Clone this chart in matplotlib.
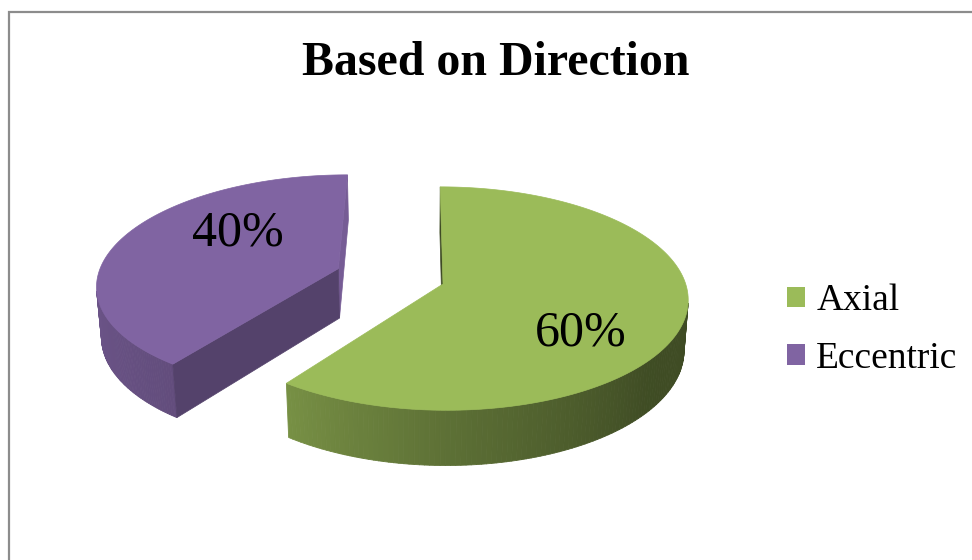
import numpy as np
import matplotlib
matplotlib.use("Agg")
import matplotlib.pyplot as plt
from matplotlib.patches import Polygon, Patch
from matplotlib.collections import PolyCollection
from matplotlib.colors import to_rgb

# ---- data ----
categories = ["Axial", "Eccentric"]
shares = [60, 40]
slice_colors = ["#9BBB59", "#8064A2"]
explode = [0.0, 0.46]
title = "Based on Direction"

SERIF = ["Liberation Serif", "DejaVu Serif"]

W, H = 972, 560
fig = plt.figure(figsize=(W / 100, H / 100), dpi=100)
ax = fig.add_axes([0, 0, 1, 1])
ax.set_xlim(0, W)
ax.set_ylim(H, 0)
ax.axis("off")

# ---- perspective camera for the 3-D pie ----
phi = np.radians(26.9)      # elevation
D = 6.84                    # camera distance (pie radius = 1)
f = 1660.0                  # focal scale in pixels
cam_x = -0.1                # camera slightly left of the pie centre
cx = 443 - f * (0 - cam_x) / D
cy = 284
thick = 0.235               # pie thickness

cam = np.array([cam_x, -D * np.cos(phi), D * np.sin(phi)])


def project(P):
    P = np.asarray(P, dtype=float)
    X, Y, Z = P[..., 0], P[..., 1], P[..., 2]
    xv = X - cam_x
    yv = Y * np.sin(phi) + Z * np.cos(phi)
    d = D + Y * np.cos(phi) - Z * np.sin(phi)
    return np.stack([cx + f * xv / d, cy - f * yv / d], axis=-1)


def wall_shade(theta_deg):
    t = np.mod(theta_deg, 360)
    return np.interp(t, [150, 180, 234, 275, 320, 360], [0.90, 0.86, 0.77, 0.58, 0.41, 0.40])


def cut_shade(normal_deg):
    t = np.mod(normal_deg, 360)
    return np.interp(t, [0, 180, 324, 360], [0.92, 0.40, 0.66, 0.92])


def shaded(color, k):
    return tuple(np.clip(np.array(to_rgb(color)) * k, 0, 1))


frac = np.array(shares, dtype=float) / sum(shares)
cum = np.concatenate([[0.0], np.cumsum(frac)])


def draw_slice(i):
    a = 90 - 360 * cum[i]          # start (clockwise from 12 o'clock)
    b = 90 - 360 * cum[i + 1]      # end
    mid = np.radians((a + b) / 2)
    off = explode[i] * np.array([np.cos(mid), np.sin(mid), 0.0])
    down = np.array([0, 0, -thick])
    n = 200
    th = np.radians(np.linspace(b, a, n))
    rim = off + np.stack([np.cos(th), np.sin(th), np.zeros_like(th)], axis=-1)

    # outer wall
    quads, cols = [], []
    for j in range(n - 1):
        t = 0.5 * (th[j] + th[j + 1])
        nrm = np.array([np.cos(t), np.sin(t), 0.0])
        p = off + nrm
        if np.dot(nrm, cam - p) > 0:
            q = np.array([rim[j], rim[j + 1], rim[j + 1] + down, rim[j] + down])
            quads.append(project(q))
            cols.append(shaded(slice_colors[i], wall_shade(np.degrees(t))))
    if quads:
        ax.add_collection(PolyCollection(quads, facecolors=cols, edgecolors=cols,
                                         linewidths=0.6, antialiased=True))

    # radial cut faces
    for ang, nrm_ang in [(b, b - 90), (a, a + 90)]:
        r = np.radians(ang)
        rn = np.radians(nrm_ang)
        nrm = np.array([np.cos(rn), np.sin(rn), 0.0])
        edge = np.array([np.cos(r), np.sin(r), 0.0])
        p = off + 0.5 * edge
        if np.dot(nrm, cam - p) > 0:
            q = np.array([off, off + edge, off + edge + down, off + down])
            c = shaded(slice_colors[i], cut_shade(nrm_ang))
            ax.add_patch(Polygon(project(q), closed=True, facecolor=c, edgecolor=c,
                                 linewidth=0.5))

    # top face
    top = np.vstack([off[None, :], rim])
    ax.add_patch(Polygon(project(top), closed=True, facecolor=slice_colors[i],
                         edgecolor=slice_colors[i], linewidth=0.5))


for i in [1, 0]:
    draw_slice(i)

# value labels
label_pos = [(581, 333), (238, 233)]
for v, (lx, ly) in zip(shares, label_pos):
    ax.text(lx, ly, f"{v:.0f}%", ha="center", va="center", fontsize=36,
            family=SERIF, color="black")

# title
ax.text(496, 63, title, ha="center", va="center", fontsize=34.5,
        fontweight="bold", family=SERIF, color="black")

# chart frame
ax.plot([9, 9, W + 10], [H + 10, 12, 12], color="#8C8C8C", lw=1.6,
        solid_joinstyle="miter", clip_on=False)

# legend
handles = [Patch(facecolor=c, edgecolor="none") for c in slice_colors]
leg = ax.legend(handles, categories, loc="center left",
                bbox_to_anchor=(787 / W, 1 - 330 / H), bbox_transform=fig.transFigure,
                frameon=False, prop={"family": SERIF, "size": 27},
                handlelength=0.48, handleheight=0.48, handletextpad=0.3,
                labelspacing=0.62, borderpad=0, borderaxespad=0)

fig.savefig("out.png", dpi=100, facecolor="white")
